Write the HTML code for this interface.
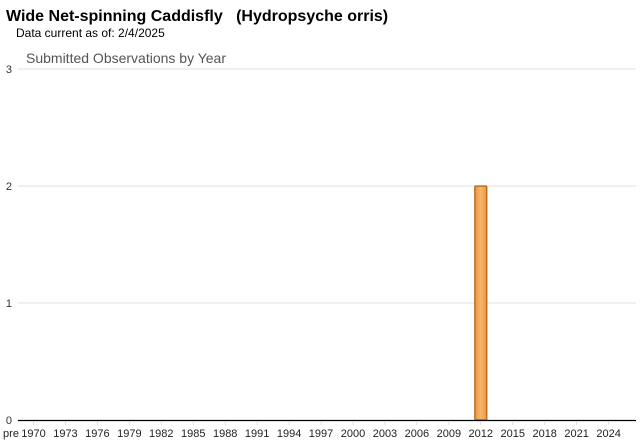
<!DOCTYPE html>
<html><head><meta charset="utf-8"><style>
body{margin:0;background:#fff;width:640px;height:442px;overflow:hidden;font-family:"Liberation Sans",sans-serif}
</style></head><body>
<svg width="640" height="442" style="position:absolute;left:0;top:0">
<defs><linearGradient id="bg" x1="0" x2="1" y1="0" y2="0"><stop offset="0" stop-color="#e89545"/><stop offset="0.5" stop-color="#f6b66a"/><stop offset="1" stop-color="#e89545"/></linearGradient></defs>
<text x="6" y="21" font-size="16" font-weight="bold" fill="#000" xml:space="preserve">Wide Net-spinning Caddisfly   (Hydropsyche orris)</text>
<text x="16" y="37" font-size="12" fill="#000">Data current as of: 2/4/2025</text>
<text x="26" y="63" font-size="14" fill="#555">Submitted Observations by Year</text>
<g id="grid"></g><g id="bars"></g><g id="xaxis"></g>
</svg>
<script>
const years=[2012];
const counts=[2];
const yTicks=[0,1,2,3];
const xLabels=[1970,1973,1976,1979,1982,1985,1988,1991,1994,1997,2000,2003,2006,2009,2012,2015,2018,2021,2024];
const NS="http://www.w3.org/2000/svg";
const y0=420,unit=117,left=18,right=636;
function yS(v){return y0-v*unit;}
function xS(yr){return 33.5+(yr-1970)*10.65;}
function mk(t,a,p){const e=document.createElementNS(NS,t);for(const k in a)e.setAttribute(k,a[k]);p.appendChild(e);return e;}
const grid=document.getElementById('grid'),bars=document.getElementById('bars'),xa=document.getElementById('xaxis');
yTicks.forEach(v=>{
 if(v>0){const l=mk('line',{x1:left,x2:right,y1:yS(v),y2:yS(v),stroke:'#e0e0e0','stroke-width':1},grid);
 
 }
 const t=mk('text',{x:12,y:yS(v)+4,'font-size':11,'text-anchor':'end',fill:'#333'},grid);
 t.textContent=v;
 
 
});
years.forEach((yr,i)=>{
 const r=mk('rect',{x:xS(yr)-6,y:yS(counts[i]),width:12,height:counts[i]*unit,fill:'url(#bg)',stroke:'#b0600a','stroke-width':1.2,rx:1},bars);
 
 
});
const ax=mk('line',{x1:left,x2:right,y1:y0+0.5,y2:y0+0.5,stroke:'#000','stroke-width':1.3},xa);


const pre=mk('text',{x:11,y:437,'font-size':11,'text-anchor':'middle',fill:'#222'},xa);
pre.textContent='pre';


xLabels.forEach(yr=>{
 const tk=mk('line',{x1:xS(yr),x2:xS(yr),y1:y0+1,y2:y0+5,stroke:'#ddd'},xa);
 
 
 const t=mk('text',{x:xS(yr),y:437,'font-size':11,'text-anchor':'middle',fill:'#222'},xa);
 t.textContent=yr;
 
 
});
</script>
</body></html>
